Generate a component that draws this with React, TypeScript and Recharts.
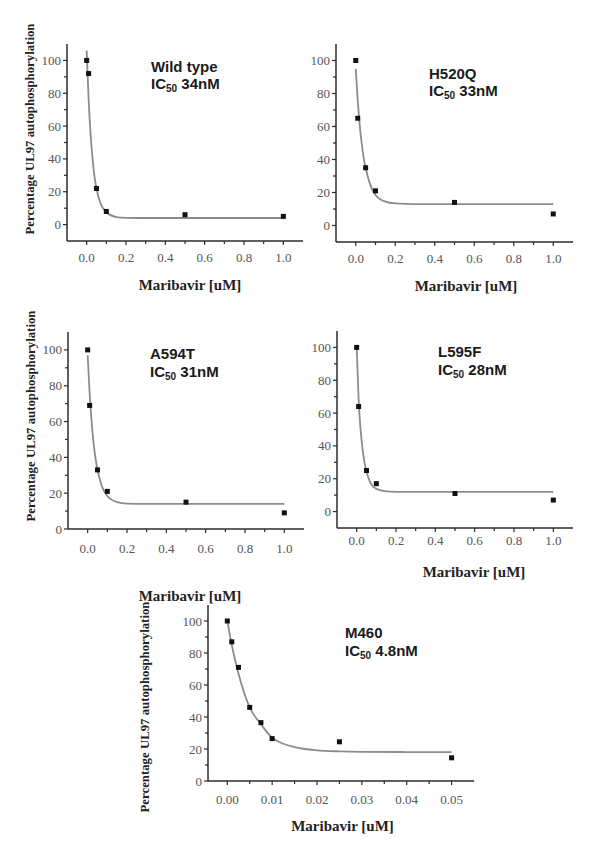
import { ComposedChart, Line, Scatter, XAxis, YAxis } from "recharts";

// measured points, Maribavir dose [uM] vs % UL97 autophosphorylation
const doses = [0, 0.01, 0.05, 0.1, 0.5, 1.0];
const wildType = [100, 92, 22, 8, 6, 5];
const h520q = [100, 65, 35, 21, 14, 7];
const a594t = [100, 69, 33, 21, 15, 9];
const l595f = [100, 64, 25, 17, 11, 7];

const m460Doses = [0, 0.001, 0.0025, 0.005, 0.0075, 0.01, 0.025, 0.05];
const m460 = [100, 87, 71, 46, 36.5, 26.5, 24.5, 14.5];

// fitted curves
const fitDoses = [0, 0.01, 0.02, 0.03, 0.04, 0.05, 0.07, 0.1, 0.15, 0.2, 0.3, 0.5, 1.0];
const wildTypeFit = [106, 76, 55, 40, 29, 22, 13, 7.5, 4.6, 4.1, 4, 4, 4];
const h520qFit = [95, 76, 61, 50, 41, 35, 26, 18.5, 14.5, 13.4, 13, 13, 13];
const a594tFit = [97, 76, 60, 48, 39.5, 33, 24.6, 18.4, 15, 14.2, 14, 14, 14];
const l595fFit = [101, 68, 50, 38, 30, 24.5, 17.5, 13.8, 12.3, 12, 12, 12, 12];

const m460FitDoses = [0, 0.001, 0.0025, 0.005, 0.0075, 0.01, 0.0125, 0.015, 0.02, 0.025, 0.03, 0.04, 0.05];
const m460Fit = [100.5, 85, 67, 46, 35.5, 27, 23.3, 21.2, 19.2, 18.5, 18.2, 18.1, 18];

// ticks
const doseTicks = [0, 0.1, 0.2, 0.3, 0.4, 0.5, 0.6, 0.7, 0.8, 0.9, 1.0];
const doseLabels = [0, 0.2, 0.4, 0.6, 0.8, 1.0];
const m460Ticks = [0, 0.005, 0.01, 0.015, 0.02, 0.025, 0.03, 0.035, 0.04, 0.045, 0.05];
const m460Labels = [0, 0.01, 0.02, 0.03, 0.04, 0.05];
const pctTicks = [0, 10, 20, 30, 40, 50, 60, 70, 80, 90, 100];
const pctLabels = [0, 20, 40, 60, 80, 100];

const AXIS = "#2b2b2b";
const TICK = "#555";
const serif = '"Liberation Serif", "Times New Roman", serif';
const sans = '"Liberation Sans", Arial, sans-serif';
const tickFont = { fontFamily: serif, fontSize: 13, fontWeight: 400 };

const zip = (xs: number[], ys: number[]) => xs.map((x, i) => ({ x, y: ys[i] }));
const isIn = (list: number[], v: number) => list.some((m) => Math.abs(m - v) < 1e-9);

function XTick({ x, y, payload, major, digits, gap }: any) {
  const v = payload.value;
  const big = isIn(major, v);
  return (
    <g>
      <line x1={x} x2={x} y1={y} y2={y + (big ? 4 : 3)} stroke={AXIS} strokeWidth={1.2} />
      {big && (
        <text x={x} y={y + gap + 4.5} textAnchor="middle" fill={TICK} style={tickFont}>
          {v.toFixed(digits)}
        </text>
      )}
    </g>
  );
}

function YTick({ x, y, payload }: any) {
  const v = payload.value;
  const big = isIn(pctLabels, v);
  return (
    <g>
      <line x1={x - (big ? 4 : 3)} x2={x} y1={y} y2={y} stroke={AXIS} strokeWidth={1.2} />
      {big && (
        <text x={x - 6} y={y + 4.5} textAnchor="end" fill={TICK} style={tickFont}>
          {v}
        </text>
      )}
    </g>
  );
}

const Square = (p: any) => (
  <rect x={p.cx - 2.5} y={p.cy - 2.5} width={5} height={5} fill="#111" />
);

const panels = [
  {
    name: "Wild type", ic: "34nM", pts: zip(doses, wildType), fit: zip(fitDoses, wildTypeFit),
    left: 67, top: 44, w: 236, h: 197, xDomain: [-0.1, 1.1], yDomain: [-10, 110],
    xTicks: doseTicks, xMajor: doseLabels, digits: 1, gap: 16.5,
    note: [151, 66.7], xLabel: [190, 285], yLabel: [29.5, 129],
  },
  {
    name: "H520Q", ic: "33nM", pts: zip(doses, h520q), fit: zip(fitDoses, h520qFit),
    left: 336, top: 44, w: 237, h: 198, xDomain: [-0.1, 1.1], yDomain: [-10, 110],
    xTicks: doseTicks, xMajor: doseLabels, digits: 1, gap: 16.7,
    note: [429, 73.3], xLabel: [466, 286], yLabel: null,
  },
  {
    name: "A594T", ic: "31nM", pts: zip(doses, a594t), fit: zip(fitDoses, a594tFit),
    left: 68, top: 332, w: 236, h: 197, xDomain: [-0.1, 1.1], yDomain: [0, 110],
    xTicks: doseTicks, xMajor: doseLabels, digits: 1, gap: 19,
    note: [150, 354], xLabel: [190, 596], yLabel: [30.5, 416],
  },
  {
    name: "L595F", ic: "28nM", pts: zip(doses, l595f), fit: zip(fitDoses, l595fFit),
    left: 337, top: 331, w: 236, h: 197, xDomain: [-0.1, 1.1], yDomain: [-10, 110],
    xTicks: doseTicks, xMajor: doseLabels, digits: 1, gap: 12.5,
    note: [438, 352], xLabel: [474, 572], yLabel: null,
  },
  {
    name: "M460", ic: "4.8nM", pts: zip(m460Doses, m460), fit: zip(m460FitDoses, m460Fit),
    left: 208, top: 605, w: 266, h: 176, xDomain: [-0.0043, 0.055], yDomain: [0, 110],
    xTicks: m460Ticks, xMajor: m460Labels, digits: 2, gap: 18,
    note: [345, 633], xLabel: [342.5, 826], yLabel: [145, 707],
  },
];

const YW = 45;
const XH = 30;

function Panel({ p }: any) {
  return (
    <>
      <div style={{ position: "absolute", left: p.left - YW, top: p.top }}>
        <ComposedChart width={p.w + YW} height={p.h + XH} margin={{ top: 0, right: 0, bottom: 0, left: 0 }}>
          <XAxis
            type="number"
            dataKey="x"
            domain={p.xDomain}
            ticks={p.xTicks}
            interval={0}
            allowDataOverflow
            height={XH}
            tickSize={0}
            tickMargin={0}
            tickLine={false}
            axisLine={{ stroke: AXIS, strokeWidth: 1.5 }}
            tick={(t: any) => <XTick {...t} major={p.xMajor} digits={p.digits} gap={p.gap} />}
          />
          <YAxis
            type="number"
            dataKey="y"
            domain={p.yDomain}
            ticks={pctTicks}
            interval={0}
            allowDataOverflow
            width={YW}
            tickSize={0}
            tickMargin={0}
            tickLine={false}
            axisLine={{ stroke: AXIS, strokeWidth: 1.5 }}
            tick={(t: any) => <YTick {...t} />}
          />
          <Line
            data={p.fit}
            dataKey="y"
            type="monotone"
            stroke="#8c8c8c"
            strokeWidth={1.8}
            dot={false}
            activeDot={false}
            isAnimationActive={false}
          />
          <Scatter data={p.pts} dataKey="y" shape={Square} isAnimationActive={false} />
        </ComposedChart>
      </div>
      <div
        style={{
          position: "absolute",
          left: p.note[0],
          top: p.note[1] - 8.75,
          fontFamily: sans,
          fontWeight: "bold",
          fontSize: 15,
          lineHeight: "17.5px",
          color: "#1a1a1a",
          whiteSpace: "nowrap",
        }}
      >
        <div>{p.name}</div>
        <div>
          IC<span style={{ fontSize: 10, position: "relative", top: 3 }}>50</span> {p.ic}
        </div>
      </div>
      <div
        style={{
          position: "absolute",
          left: p.xLabel[0],
          top: p.xLabel[1],
          transform: "translate(-50%, -50%)",
          fontFamily: serif,
          fontWeight: "bold",
          fontSize: 15,
          color: "#222",
          whiteSpace: "nowrap",
        }}
      >
        Maribavir [uM]
      </div>
      {p.yLabel && (
        <div
          style={{
            position: "absolute",
            left: p.yLabel[0],
            top: p.yLabel[1],
            transform: "translate(-50%, -50%) rotate(-90deg)",
            fontFamily: serif,
            fontWeight: "bold",
            fontSize: 12.8,
            color: "#222",
            whiteSpace: "nowrap",
          }}
        >
          Percentage UL97 autophosphorylation
        </div>
      )}
    </>
  );
}

export default function App() {
  return (
    <div style={{ position: "absolute", left: 0, top: 0, width: 600, height: 855, background: "#fff", overflow: "hidden" }}>
      {panels.map((p) => (
        <Panel key={p.name} p={p} />
      ))}
    </div>
  );
}
